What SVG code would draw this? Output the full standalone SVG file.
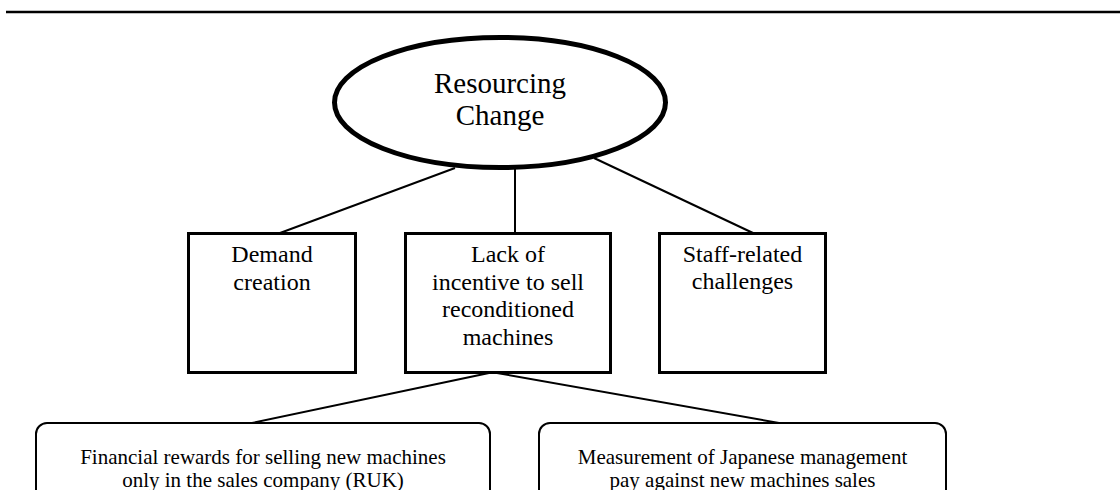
<svg xmlns="http://www.w3.org/2000/svg" width="1120" height="490" viewBox="0 0 1120 490">
<style>
.t{font-family:"Liberation Serif","Times New Roman",serif;fill:#000;text-anchor:middle}
.box{fill:#fff;stroke:#000;stroke-width:3}
.rbox{fill:#fff;stroke:#000;stroke-width:2}
.c{stroke:#000;stroke-width:2;fill:none}
</style>
<rect width="1120" height="490" fill="#fff"/>
<line x1="6" y1="12" x2="1120" y2="12" stroke="#000" stroke-width="2.5"/>
<g id="connectors">
<line class="c" x1="455" y1="168" x2="280" y2="233"/>
<line class="c" x1="515" y1="168" x2="515" y2="233"/>
<line class="c" x1="594" y1="158" x2="753" y2="233"/>
<line class="c" x1="489" y1="373" x2="252" y2="423"/>
<line class="c" x1="497" y1="373" x2="779" y2="423"/>
</g>
<g id="root">
<ellipse cx="500" cy="102.5" rx="165.5" ry="65" fill="#fff" stroke="#000" stroke-width="5"/>
<text class="t" font-size="29" x="500" y="93">Resourcing</text>
<text class="t" font-size="29" x="500" y="125">Change</text>
</g>
<g id="demand">
<rect class="box" x="188.5" y="233.5" width="167" height="139"/>
<text class="t" font-size="24" x="272" y="262">Demand</text>
<text class="t" font-size="24" x="272" y="290">creation</text>
</g>
<g id="lack">
<rect class="box" x="405.5" y="233.5" width="205" height="139"/>
<text class="t" font-size="24" x="508" y="262">Lack of</text>
<text class="t" font-size="24" x="508" y="290">incentive to sell</text>
<text class="t" font-size="24" x="508" y="317">reconditioned</text>
<text class="t" font-size="24" x="508" y="345">machines</text>
</g>
<g id="staff">
<rect class="box" x="659.5" y="233.5" width="166" height="139"/>
<text class="t" font-size="24" x="742.5" y="262">Staff-related</text>
<text class="t" font-size="24" x="742.5" y="289">challenges</text>
</g>
<g id="financial">
<rect class="rbox" x="36" y="423" width="454" height="90" rx="11" ry="11"/>
<text class="t" font-size="21" x="263" y="464">Financial rewards for selling new machines</text>
<text class="t" font-size="21" x="263" y="487">only in the sales company (RUK)</text>
</g>
<g id="measurement">
<rect class="rbox" x="539" y="423" width="407" height="90" rx="11" ry="11"/>
<text class="t" font-size="21" x="742.5" y="464">Measurement of Japanese management</text>
<text class="t" font-size="21" x="742.5" y="487">pay against new machines sales</text>
</g>
</svg>
